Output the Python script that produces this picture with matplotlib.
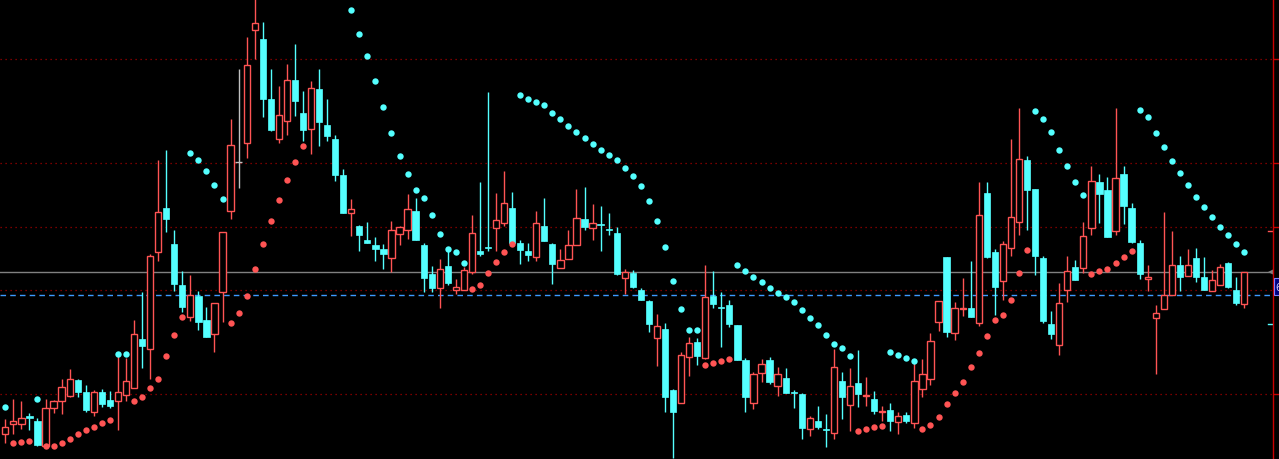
import numpy as np
import matplotlib.pyplot as plt
from matplotlib.patches import Rectangle
from matplotlib.transforms import blended_transform_factory

# daily OHLC (price units)
opens = [25, 35, 35, 42, 38, 13.3, 51.3, 58.3, 63.3, 79,
         67, 47.3, 67, 59, 58, 64.3, 71.3, 120, 110.3, 207.3,
         251, 215, 174, 141.7, 163.3, 139, 124.7, 167.3, 247.7, 296.7,
         316.3, 429.3, 420, 360, 320, 338.3, 379, 346, 330.3, 370,
         334, 320, 284, 245.7, 233, 219, 214.3, 210, 201.3, 225.3,
         229.3, 248, 214, 185, 170.7, 193, 169.3, 169.3, 187.3, 208,
         211, 231, 236.3, 251, 216, 208, 202.3, 233, 215, 191.3,
         200.3, 214.3, 240, 231.3, 234.5, 229.2, 226, 181.3, 186, 169,
         158, 120.7, 130, 68.7, 55.7, 101.7, 116.7, 100.7, 163, 150.8,
         154, 134, 99, 56.3, 85.7, 99, 73.3, 80.7, 65.8, 64.7,
         29.7, 38, 29.4, 25.7, 77.7, 53.7, 75.7, 63.3, 60, 47.3,
         48.7, 36.7, 44, 36, 69.7, 79.7, 136.7, 202, 126.3, 150.3,
         150.7, 135.7, 266, 206.7, 178.3, 210.7, 236.7, 298.7, 270, 200.7,
         134.7, 114.3, 168.7, 191.7, 190.7, 231.3, 277, 269, 228.3, 285,
         251, 216, 179.7, 141.3, 150.3, 164.3, 194, 183.3, 201, 182,
         168.3, 174.3, 196, 169, 155.3]
highs = [40, 60, 58, 46, 40.7, 60, 59.3, 80, 90, 80,
         74, 69.3, 70, 68, 104, 101, 139, 166.7, 205, 299,
         309, 229, 188.3, 184, 168, 152, 156, 226.7, 340, 390,
         422, 462, 437.3, 390, 373, 395, 415, 368, 378, 390,
         360, 324, 290, 260, 234, 237, 221.7, 214.7, 238, 233.3,
         265, 260.7, 215.7, 193.3, 200, 208.3, 180, 191.7, 244, 276.7,
         366.7, 266, 288, 267, 219, 216, 248, 261, 216, 210,
         229, 270, 272, 255, 253, 246, 231.7, 190, 188.7, 171,
         159, 145, 136, 70, 106.7, 121.7, 121, 194, 188, 167,
         159, 134, 100.7, 86.7, 100, 101.7, 91.7, 91, 69, 65.7,
         43.3, 53, 45, 110, 87, 91, 109, 82, 68, 53.3,
         56, 46.7, 46.7, 96.7, 100, 126, 157.7, 202, 156.7, 181,
         197.7, 277, 277, 210, 217.7, 320, 351, 303, 270, 202.7,
         148, 175.7, 202.7, 198.7, 237, 293, 285, 282, 351, 293,
         256, 219, 194, 154, 247, 228, 203, 210, 211, 202,
         189, 195, 197, 182, 187]
lows = [16, 25, 30, 29, 13.3, 12.7, 46, 45, 61.7, 61.7,
        46.7, 43.3, 51.7, 51.3, 29, 58.3, 71, 91, 80, 198.3,
        227.3, 168.3, 146.7, 138.3, 129.3, 122.3, 107.3, 136.7, 240, 271,
        301.3, 400, 342, 328.3, 316, 324, 343.3, 318.3, 305, 313.3,
        318.3, 278.3, 246.3, 222.7, 208.3, 215.7, 198, 190.3, 187.3, 214.3,
        219.7, 219.3, 167.3, 167.3, 151.3, 174.3, 165, 169.3, 185.3, 203.3,
        208.3, 208.3, 233.3, 215, 195, 198, 198, 218, 175, 190.7,
        200.3, 214.3, 229.3, 219, 208, 224, 184.3, 165, 171, 159.3,
        127.3, 93.3, 47.3, 1, 55.7, 83.3, 94.3, 100, 150.7, 112.3,
        132.3, 99, 47.3, 50.3, 76.7, 75, 63.3, 66.3, 51.3, 20,
        23.3, 30, 12.3, 20, 40.3, 28.3, 52.3, 53.3, 45.3, 38.3,
        28.3, 25, 36.3, 30.7, 62.3, 74.3, 128.3, 122.3, 119.3, 143.3,
        142.3, 133.3, 201.3, 144, 159.3, 203.3, 224.3, 229.3, 184.3, 136,
        120.3, 104.3, 156.7, 179.3, 186, 224.3, 236.3, 222.3, 224.3, 235.3,
        216, 180, 168.3, 85, 150, 164, 168.3, 183.3, 177.3, 168.7,
        168.3, 174.3, 171.3, 154.3, 151.3]
closes = [32.3, 38, 41, 41.5, 14, 51, 58, 72, 80, 66.7,
          49, 67, 55, 53, 67, 78, 125, 113.3, 203, 246.7,
          240, 175, 152.3, 164, 137.3, 122.3, 155.7, 226.7, 314, 296.7,
          394, 436, 360, 329.3, 344, 379, 358.3, 329.3, 371, 337.3,
          323.3, 284.3, 246.3, 250, 224.3, 216.3, 210.3, 205.3, 228.7, 231.7,
          250, 219.3, 181, 171.3, 189.7, 176.3, 171.7, 188.7, 225.7, 205.3,
          210.7, 239, 255.7, 216, 209, 204, 235.7, 218, 195, 199,
          214, 241, 232, 235.7, 234.3, 229, 185.3, 187, 172, 159.3,
          135.3, 132.7, 62.3, 47.3, 103.7, 115.7, 103.3, 161.7, 155, 150.7,
          135.3, 99.3, 62.3, 84.7, 94.7, 77.3, 84.7, 66.3, 65.7, 31,
          40.7, 32.3, 29.3, 91.7, 62.3, 72.7, 65.3, 64.3, 48.3, 48.3,
          38.3, 42.7, 38.3, 77.7, 84.7, 117.7, 157.7, 127.3, 150.7, 151.3,
          142.3, 243.7, 202.3, 172.3, 214.7, 241.7, 299.7, 269.3, 203.3, 138.3,
          125.3, 155.7, 188.3, 179.3, 222.7, 277.7, 265.3, 222.3, 280.7, 253.3,
          217.3, 185.3, 181.7, 145.7, 163.7, 194, 182.3, 194, 182.3, 169,
          179, 192, 172.3, 156.3, 187]

# parabolic SAR (nan = above the visible range)
sar = [52.3, 16.3, 17.3, 18.3, 60.3, 13.3, 13.3, 16.3, 20.3, 25.3,
       29.3, 32.3, 36.3, 39.3, 105.3, 105.3, 58.3, 62.3, 71.3, 80.3,
       103.3, 124.3, 142.3, 306.3, 299.3, 288.3, 274.3, 260.3, 136.3, 146.3,
       163.3, 190.3, 215.3, 238.3, 259.3, 279.3, 297.3, 313.3, np.nan, np.nan,
       np.nan, np.nan, np.nan, 449.3, 425.3, 403.3, 378.3, 352.3, 326.3, 303.3,
       285.3, 269.3, 261.3, 244.3, 225.3, 210.3, 207.3, 196.3, 170.3, 174.3,
       186.3, 197.3, 207.3, 215.3, 364.3, 360.3, 357.3, 354.3, 346.3, 340.3,
       333.3, 327.3, 321.3, 315.3, 309.3, 304.3, 299.3, 291.3, 283.3, 273.3,
       258.3, 238.3, 212.3, 178.3, 150.3, 129.3, 129.3, 94.3, 96.3, 98.3,
       100.3, 194.3, 188.3, 182.3, 177.3, 171.3, 166.3, 162.3, 157.3, 149.3,
       141.3, 134.3, 124.3, 115.3, 111.3, 103.3, 28.3, 30.3, 32.3, 33.3,
       107.3, 104.3, 101.3, 98.3, 30.3, 34.3, 42.3, 55.3, 66.3, 77.3,
       92, 106.3, 123.3, 139.3, 144.3, 159.3, 186.3, 209.3, 348.3, 340.3,
       327.3, 309.3, 293.3, 277.3, 264.3, 185.3, 188.3, 190.3, 196.3, 202.3,
       208.3, 349.3, 342.3, 326.3, 312.3, 298.3, 286.3, 274.3, 262.3, 252.3,
       242.3, 232.3, 224.3, 215.3, 207.3]

grid_levels = [400, 296, 232, 169, 65]
dash_level = 164
range_high = 228
range_low = 135

UP = '#ff5454'
DOWN = '#54ffff'
FLAT = '#c0c0c0'
GRID = '#a00000'
AXIS = '#c80000'

fig = plt.figure(figsize=(12.79, 4.6), dpi=100)
fig.patch.set_facecolor('black')
ax = fig.add_axes([0, 0, 1273 / 1279, 1])
ax.set_facecolor('black')

n = len(closes)
x = np.arange(n)
w = 0.78

for g in grid_levels:
    ax.axhline(g, color=GRID, lw=0.9, ls=(0, (1, 3)), zorder=0)
ax.axhline(closes[-1], color='#808080', lw=1, zorder=1)
ax.axhline(dash_level, color='#3d9bff', lw=1, ls=(0, (4, 3)), zorder=1)

for i in range(n):
    o, h, l, c = opens[i], highs[i], lows[i], closes[i]
    if c > o:
        ax.vlines(i, l, o, color=UP, lw=1, zorder=2)
        ax.vlines(i, c, h, color=UP, lw=1, zorder=2)
        ax.add_patch(Rectangle((i - w / 2, o), w, c - o, facecolor='black',
                               edgecolor=UP, lw=1, zorder=3))
    elif c < o:
        ax.vlines(i, l, h, color=DOWN, lw=1, zorder=2)
        ax.add_patch(Rectangle((i - w / 2, c), w, max(o - c, 1.2), facecolor=DOWN,
                               edgecolor=DOWN, lw=0.5, zorder=3))
    else:
        ax.vlines(i, l, h, color=FLAT, lw=1, zorder=2)
        ax.hlines(o, i - w / 2, i + w / 2, color=FLAT, lw=1, zorder=3)

sar = np.array(sar, dtype=float)
cl = np.array(closes, dtype=float)
ok = ~np.isnan(sar)
below = ok & (sar < cl)
above = ok & (sar > cl)
ax.plot(x[below], sar[below], 'o', ms=4.6, mew=0, color=UP, zorder=5)
ax.plot(x[above], sar[above], 'o', ms=4.6, mew=0, color=DOWN, zorder=5)

ax.set_xlim(-5.3 / 8.045, -5.3 / 8.045 + 1273 / 8.045)
ax.set_ylim(0, 460)

for s in ['top', 'left', 'bottom']:
    ax.spines[s].set_visible(False)
ax.spines['right'].set_color(AXIS)
ax.spines['right'].set_linewidth(1)
ax.set_xticks([])
ax.yaxis.tick_right()
ax.set_yticks(grid_levels)
ax.tick_params(axis='y', colors=AXIS, length=4.5, width=1, labelright=False)

# markers along the price scale
tr = blended_transform_factory(ax.transAxes, ax.transData)
ax.plot([0.996, 1.0], [range_high, range_high], color=UP, lw=1, transform=tr)
ax.plot([0.996, 1.0], [range_low, range_low], color=DOWN, lw=1, transform=tr)
ax.plot([0.9985], [closes[-1]], marker='<', ms=5, color='#808080', mew=0,
        transform=tr, clip_on=False)

fig.patches.append(Rectangle((1274 / 1279, (460 - 296) / 460), 0.01, 17 / 460,
                             transform=fig.transFigure, facecolor='#000080',
                             edgecolor='#8080ff', lw=0.8))
fig.text(1275 / 1279, (460 - 288) / 460, '6', color='#d0d0ff', fontsize=7,
         va='center', ha='left')

fig.savefig('out.png', dpi=100, facecolor='black')
